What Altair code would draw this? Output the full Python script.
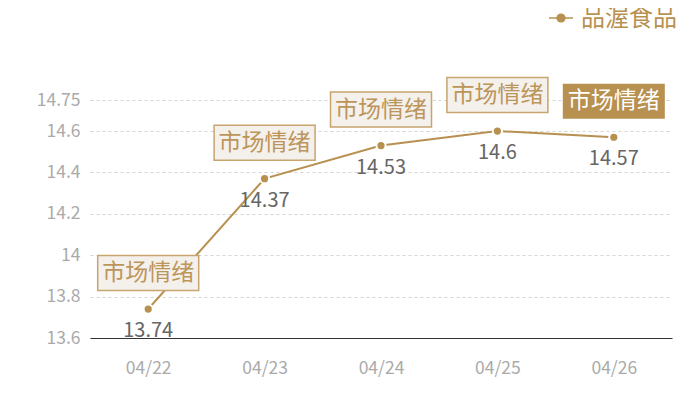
import altair as alt
import pandas as pd

dates = ["04/22", "04/23", "04/24", "04/25", "04/26"]
values = [13.74, 14.37, 14.53, 14.60, 14.57]
notes = ["市场情绪", "市场情绪", "市场情绪", "市场情绪", "市场情绪"]
highlight = [False, False, False, False, True]
series = "品渥食品"
y_ticks = [13.6, 13.8, 14.0, 14.2, 14.4, 14.6, 14.75]

TAN = "#b8904f"
FONT = "Noto Sans CJK SC"

df = pd.DataFrame({"date": dates, "value": values, "note": notes,
                   "hl": highlight, "series": [series] * len(dates)})
legend_df = pd.DataFrame({"series": [series]})

x = alt.X("date:O", title=None,
          scale=alt.Scale(type="point", padding=0.5),
          axis=alt.Axis(labelAngle=0, labelColor="#aaaaaa", labelFontSize=17.5,
                        labelFont=FONT, domainColor="#333333", domainWidth=1.2,
                        ticks=False, labelPadding=21, grid=False))
y = alt.Y("value:Q", title=None,
          scale=alt.Scale(domain=[13.6, 14.75], nice=False, zero=False),
          axis=alt.Axis(values=y_ticks, labelExpr="datum.value",
                        labelColor="#aaaaaa", labelFontSize=17.5, labelFont=FONT,
                        domain=False, ticks=False, labelPadding=10,
                        grid=True, gridColor="#d5d5d5", gridDash=[3, 3]))

base = alt.Chart(df).encode(x=x, y=y)

line = base.mark_line(color=TAN, strokeWidth=2)
points = base.mark_point(filled=True, color=TAN, size=85, stroke="white",
                         strokeWidth=2, opacity=1)
vals = base.mark_text(dy=22, fontSize=20, color="#666666", font=FONT).encode(
    text=alt.Text("value:Q"))

box_light = base.transform_filter("!datum.hl").mark_rect(
    width=101, height=35, yOffset=-36, fill="#f4f0eb", stroke="#c8a46e", strokeWidth=1.5)
box_dark = base.transform_filter("datum.hl").mark_rect(
    width=102, height=35, yOffset=-36, fill=TAN)
txt_light = base.transform_filter("!datum.hl").mark_text(
    dy=-36, fontSize=23, color="#bc955a", font=FONT).encode(text="note:N")
txt_dark = base.transform_filter("datum.hl").mark_text(
    dy=-36, fontSize=23, color="white", font=FONT).encode(text="note:N")

# legend (line + dot symbol and series name), top right
leg = alt.Chart(legend_df)
leg_rule = leg.mark_rule(color=TAN, strokeWidth=1.5).encode(
    x=alt.value(459), x2=alt.value(483), y=alt.value(-82))
leg_dot = leg.mark_point(filled=True, color=TAN, size=85, opacity=1).encode(
    x=alt.value(471), y=alt.value(-82))
leg_txt = leg.mark_text(align="left", baseline="middle", fontSize=24,
                        color=TAN, font=FONT).encode(
    x=alt.value(491), y=alt.value(-81), text="series:N")

chart = alt.layer(line, points, vals, box_light, box_dark, txt_light, txt_dark,
                  leg_rule, leg_dot, leg_txt).properties(
    width=582, height=238,
    autosize=alt.AutoSizeParams(type="none"),
    padding={"left": 82, "top": 92, "right": 20, "bottom": 54},
).configure_view(stroke=None)

chart.save("out.html", embed_options={"renderer": "svg", "actions": False})
